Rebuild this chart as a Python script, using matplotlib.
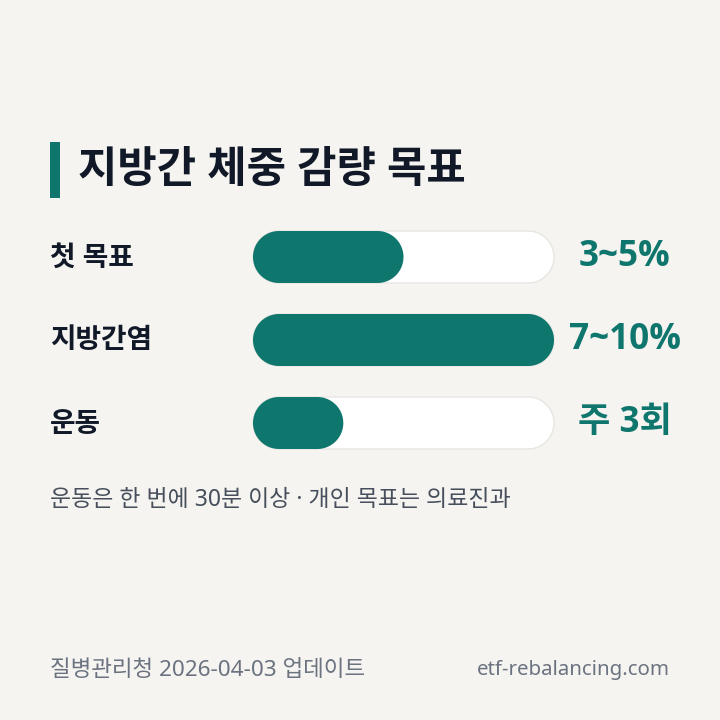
import matplotlib
matplotlib.use("Agg")
import matplotlib.pyplot as plt
import numpy as np
from matplotlib.patches import Polygon, Rectangle

FONT = ['Noto Sans', 'Noto Sans CJK KR', 'DejaVu Sans']
BOLD = ['Open Sans', 'Noto Sans CJK KR', 'DejaVu Sans']
plt.rcParams['font.family'] = FONT

title = "지방간 체중 감량 목표"
categories = ["첫 목표", "지방간염", "운동"]
fill_values = [50, 100, 30]
value_labels = ["3~5%", "7~10%", "주 3회"]
note = "운동은 한 번에 30분 이상 · 개인 목표는 의료진과"
source = "질병관리청 2026-04-03 업데이트"
site = "etf-rebalancing.com"

BG = "#F5F4F0"
TEAL = "#0F766E"
INK = "#111827"


def pill(x, y, w, h):
    r = h / 2
    t = np.linspace(-np.pi / 2, np.pi / 2, 60)
    right = np.column_stack([x + w - r + r * np.cos(t), y + r + r * np.sin(t)])
    left = np.column_stack([x + r - r * np.cos(t), y + r - r * np.sin(t)])
    return np.vstack([right, left])


fig = plt.figure(figsize=(7.2, 7.2), dpi=100, facecolor=BG)
ax = fig.add_axes([0, 0, 1, 1])
ax.set_xlim(0, 720)
ax.set_ylim(720, 0)
ax.axis('off')

ax.add_patch(Rectangle((50, 142), 10, 56, fc=TEAL, ec='none'))
ax.text(78, 170, title, fontsize=30.8, fontweight='bold', family=BOLD, color=INK, va='center', ha='left')

bar_x, bar_w, bar_h = 253, 301, 52
tops = [231, 314, 397]
for cat, val, lab, top in zip(categories, fill_values, value_labels, tops):
    cy = top + bar_h / 2
    ax.text(50, cy + 1, cat, fontsize=20, fontweight='bold', family=BOLD, color=INK, va='center', ha='left')
    ax.add_patch(Polygon(pill(bar_x, top, bar_w, bar_h), closed=True, fc="white", ec="#E7E6E2", lw=1))
    ax.add_patch(Polygon(pill(bar_x, top, bar_w * val / 100, bar_h), closed=True, fc=TEAL, ec='none'))
    ax.text(625, cy, lab, fontsize=25.3, fontweight='bold', family=BOLD, color=TEAL, va='center', ha='center')

ax.text(50, 500.5, note, fontsize=16.5, color="#474F5C", va='center', ha='left')
ax.text(50, 670, source, fontsize=16.2, color="#6B7280", va='center', ha='left')
ax.text(670, 670, site, fontsize=14.7, color="#6B7280", va='center', ha='right')

fig.savefig("out.png", dpi=100, facecolor=BG)
